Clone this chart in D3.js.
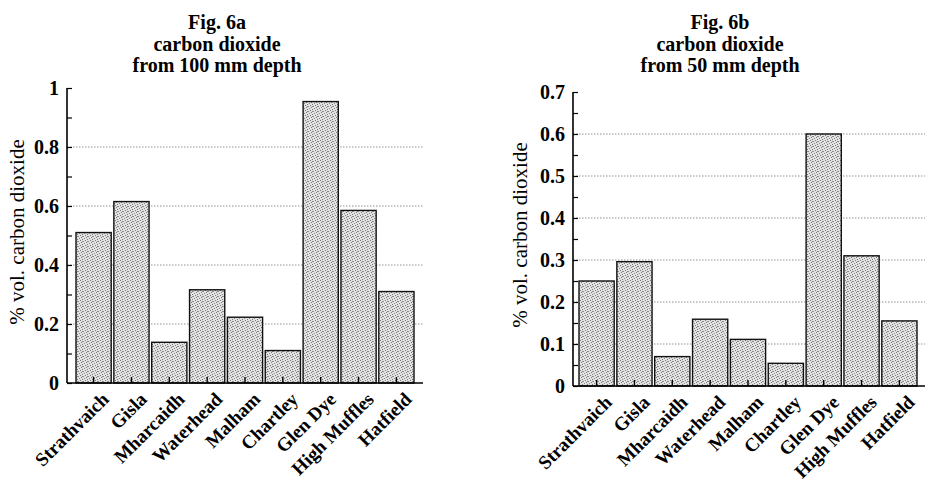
<!DOCTYPE html>
<html>
<head>
<meta charset="utf-8">
<script src="https://cdnjs.cloudflare.com/ajax/libs/d3/7.8.5/d3.min.js"></script>
<style>
  body { margin: 0; background: #fff; }
  svg { display: block; }
  text { font-family: "Liberation Serif", "DejaVu Serif", serif; fill: #000; }
</style>
</head>
<body>
<svg id="chart" width="925" height="486"></svg>
<script>
// site names, shared by both panels
var sites = ['Strathvaich', 'Gisla', 'Mharcaidh', 'Waterhead', 'Malham',
             'Chartley', 'Glen Dye', 'High Muffles', 'Hatfield'];

// Fig. 6a: % vol. CO2 at 100 mm depth
var co2_100mm = [0.51, 0.615, 0.138, 0.316, 0.223, 0.11, 0.954, 0.585, 0.31];
// Fig. 6b: % vol. CO2 at 50 mm depth
var co2_50mm = [0.25, 0.296, 0.07, 0.159, 0.111, 0.054, 0.6, 0.31, 0.155];

var ticks_a = [0, 0.2, 0.4, 0.6, 0.8, 1];
var ticks_b = [0, 0.1, 0.2, 0.3, 0.4, 0.5, 0.6, 0.7];

var svg = d3.select('#chart');

// stipple fill for the bars (scattered dots, not a diagonal)
var defs = svg.append('defs');
var pat = defs.append('pattern')
    .attr('id', 'stipple')
    .attr('patternUnits', 'userSpaceOnUse')
    .attr('width', 5).attr('height', 5);
pat.append('rect').attr('width', 5).attr('height', 5).attr('fill', '#e2e2e2');
[[0, 0], [3, 1], [1, 2], [4, 3], [2, 4], [2, 1]].forEach(function(p, i) {
    pat.append('rect').attr('x', p[0]).attr('y', p[1])
        .attr('width', 1).attr('height', 1)
        .attr('fill', i % 2 ? '#8c8c8c' : '#7a7a7a');
});

function panel(opt) {
    var g = svg.append('g');

    var x = d3.scaleBand().domain(sites)
        .range([opt.bandLeft, opt.bandRight])
        .paddingInner(0.07).paddingOuter(0);
    var y = d3.scaleLinear().domain([0, opt.max]).range([opt.bottom, opt.top]);

    // titles
    opt.title.forEach(function(t, i) {
        g.append('text')
            .attr('x', opt.titleX).attr('y', 29 + i * 21.5)
            .attr('text-anchor', 'middle')
            .style('font-size', '20px').style('font-weight', 'bold')
            .text(t);
    });

    // dotted gridlines at labelled ticks (not at 0 or top)
    g.selectAll('line.grid')
        .data(opt.ticks.filter(function(d) { return d > 0 && d < opt.max - 1e-9; }))
        .enter().append('line')
        .attr('class', 'grid')
        .attr('x1', opt.axisX).attr('x2', opt.gridRight)
        .attr('y1', function(d) { return y(d); })
        .attr('y2', function(d) { return y(d); })
        .attr('stroke', '#777').attr('stroke-width', 0.8)
        .attr('stroke-dasharray', '1.5,1.5');

    // bars
    g.selectAll('rect.bar')
        .data(opt.values)
        .enter().append('rect')
        .attr('class', 'bar')
        .attr('x', function(d, i) { return x(sites[i]); })
        .attr('width', x.bandwidth())
        .attr('y', function(d) { return y(d); })
        .attr('height', function(d) { return y(0) - y(d); })
        .attr('fill', 'url(#stipple)')
        .attr('stroke', '#111').attr('stroke-width', 1.4);

    // y axis: ticks on the inside, minor ticks halfway
    var yAxis = d3.axisRight(y)
        .tickValues(d3.range(0, opt.max + 1e-9, opt.minor))
        .tickSize(5).tickFormat('');
    var ya = g.append('g')
        .attr('transform', 'translate(' + opt.axisX + ',0)')
        .call(yAxis);
    ya.select('.domain').attr('stroke', '#000').attr('stroke-width', 1.6)
        .attr('d', 'M0,' + opt.top + 'V' + opt.bottom);
    ya.selectAll('.tick line').attr('stroke', '#000').attr('stroke-width', 1.2);

    g.selectAll('text.ytick')
        .data(opt.ticks)
        .enter().append('text')
        .attr('class', 'ytick')
        .attr('x', opt.axisX - 8)
        .attr('y', function(d) { return y(d); })
        .attr('dy', '0.35em')
        .attr('text-anchor', 'end')
        .style('font-size', '20px').style('font-weight', 'bold')
        .text(function(d) { return String(+d.toFixed(1)); });

    // x axis baseline with small ticks pointing up at bar centres
    var xAxis = d3.axisTop(x).tickSize(6).tickFormat('');
    var xa = g.append('g')
        .attr('transform', 'translate(0,' + opt.bottom + ')')
        .call(xAxis);
    xa.select('.domain').attr('stroke', '#000').attr('stroke-width', 1.6)
        .attr('d', 'M' + opt.axisX + ',0H' + opt.gridRight);
    xa.selectAll('.tick line').attr('stroke', '#000').attr('stroke-width', 1.4);

    g.selectAll('text.xlab')
        .data(sites)
        .enter().append('text')
        .attr('class', 'xlab')
        .attr('transform', function(d) {
            return 'translate(' + (x(d) + x.bandwidth() / 2 + 7) + ',' + (opt.bottom + 8) + ') rotate(-45)';
        })
        .attr('text-anchor', 'end')
        .attr('dy', '0.7em')
        .style('font-size', '19px').style('font-weight', 'bold')
        .text(function(d) { return d; });

    // y label
    g.append('text')
        .attr('transform', 'translate(' + opt.labelX + ',' + opt.labelY + ') rotate(-90)')
        .attr('text-anchor', 'middle')
        .attr('dy', '0.35em')
        .style('font-size', '21px')
        .text('% vol. carbon dioxide');
}

panel({
    title: ['Fig. 6a', 'carbon dioxide', 'from 100 mm depth'],
    titleX: 217, values: co2_100mm, ticks: ticks_a, max: 1, minor: 0.1,
    axisX: 67, top: 88, bottom: 383, bandLeft: 76, bandRight: 414, gridRight: 423,
    labelX: 17, labelY: 232
});

panel({
    title: ['Fig. 6b', 'carbon dioxide', 'from 50 mm depth'],
    titleX: 720, values: co2_50mm, ticks: ticks_b, max: 0.7, minor: 0.05,
    axisX: 573, top: 92, bottom: 386, bandLeft: 579, bandRight: 917, gridRight: 925,
    labelX: 520, labelY: 235
});
</script>
</body>
</html>
